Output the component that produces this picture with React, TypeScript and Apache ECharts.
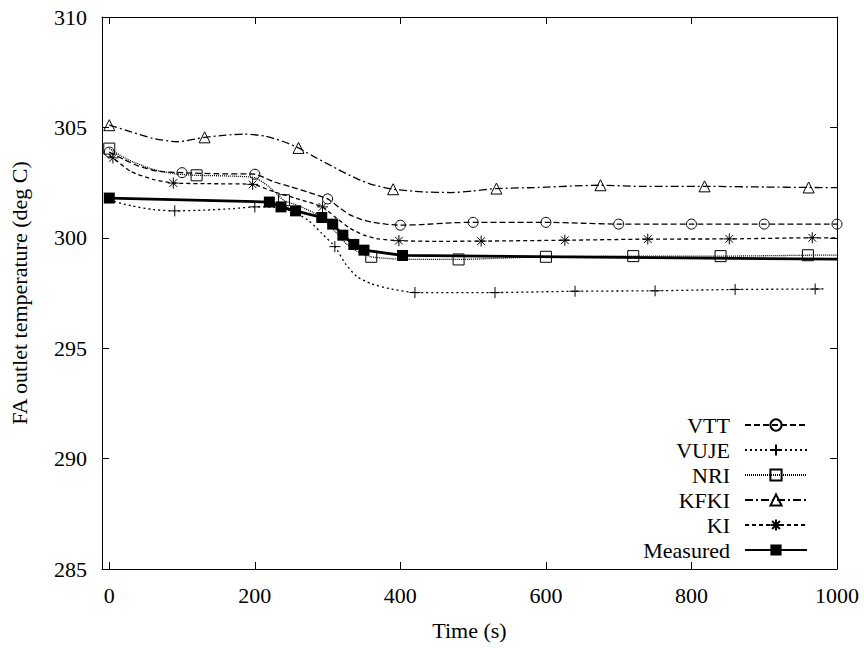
import React, { useEffect, useRef } from "react";
import * as echarts from "echarts";

// ---------- data ----------
const seriesNames = ["VTT", "VUJE", "NRI", "KFKI", "KI", "Measured"];

const xTicks = [0, 200, 400, 600, 800, 1000];
const yMin = 285;
const yMax = 310;
const yStep = 5;
const xMin = -10;
const xMax = 1000;

const vttData = [
  [0, 303.88], [20, 303.55], [40, 303.25], [65, 303.02], [100, 302.95], [150, 302.9],
  [200, 302.88], [225, 302.55], [250, 302.3], [275, 302.05], [300, 301.76], [315, 301.4],
  [330, 301.05], [345, 300.85], [360, 300.72], [380, 300.62], [400, 300.57], [430, 300.6],
  [470, 300.68], [500, 300.7], [600, 300.7], [650, 300.66], [700, 300.62], [800, 300.62],
  [900, 300.62], [1000, 300.62],
];
const vttMarkers = [0, 100, 200, 300, 400, 500, 600, 700, 800, 900, 1000];

const vujeData = [
  [0, 301.7], [30, 301.45], [60, 301.28], [90, 301.22], [130, 301.25], [170, 301.32],
  [200, 301.4], [230, 301.38], [255, 301.15], [275, 300.75], [292, 300.2], [310, 299.6],
  [325, 298.8], [340, 298.25], [360, 297.92], [385, 297.7], [420, 297.52], [530, 297.52],
  [640, 297.58], [750, 297.6], [860, 297.66], [970, 297.68], [985, 297.69],
];
const vujeMarkers = [90, 200, 310, 420, 530, 640, 750, 860, 970];

const nriData = [
  [0, 304.04], [25, 303.55], [60, 303.1], [90, 302.9], [120, 302.83], [160, 302.8],
  [200, 302.72], [220, 302.3], [240, 301.7], [260, 301.45], [280, 301.15], [295, 300.8],
  [310, 300.3], [325, 299.75], [340, 299.4], [360, 299.14], [390, 299.05], [430, 299.02],
  [480, 299.02], [540, 299.08], [600, 299.14], [720, 299.17], [840, 299.17], [960, 299.21],
  [1000, 299.22],
];
const nriMarkers = [0, 120, 240, 360, 480, 600, 720, 840, 960];

const kfkiData = [
  [0, 305.1], [30, 304.8], [60, 304.5], [93, 304.35], [131, 304.55], [160, 304.65],
  [185, 304.7], [215, 304.6], [240, 304.35], [260, 304.07], [280, 303.7], [300, 303.35],
  [320, 303.0], [340, 302.68], [360, 302.42], [390, 302.2], [430, 302.08], [470, 302.05],
  [500, 302.12], [532, 302.23], [590, 302.28], [640, 302.35], [675, 302.38], [730, 302.33],
  [818, 302.33], [900, 302.3], [961, 302.28], [1000, 302.27],
];
const kfkiMarkers = [0, 131, 260, 390, 532, 675, 818, 961];

const kiData = [
  [0, 303.72], [5, 303.62], [30, 303.0], [60, 302.65], [88, 302.48], [140, 302.45],
  [197, 302.42], [225, 302.1], [255, 301.8], [293, 301.4], [310, 300.95], [330, 300.45],
  [350, 300.12], [370, 299.95], [398, 299.87], [450, 299.84], [511, 299.85], [626, 299.89],
  [740, 299.94], [852, 299.95], [966, 300.0], [1000, 300.0],
];
const kiMarkers = [5, 88, 197, 293, 398, 511, 626, 740, 852, 966];

const measuredData = [
  [0, 301.8], [220, 301.62], [236, 301.4], [256, 301.22], [292, 300.92], [307, 300.62],
  [321, 300.12], [336, 299.7], [350, 299.44], [403, 299.2], [1000, 299.03],
];
const measuredMarkers = [0, 220, 236, 256, 292, 307, 321, 336, 350, 403];

// ---------- styling ----------
const FONT = "'Liberation Serif', 'Times New Roman', Times, serif";
const FS = 22;
const PLUS = "path://M0,5L10,5M5,0L5,10";
const STAR = "path://M5,0L5,10M0,5L10,5M1.5,1.5L8.5,8.5M8.5,1.5L1.5,8.5";

function withMarkers(data: number[][], markers: number[]) {
  const set = new Set(markers);
  return data.map(([t, v]) =>
    set.has(t) ? { value: [t, v] } : { value: [t, v], symbol: "none" }
  );
}

function modelSeries(
  name: string,
  data: number[][],
  markers: number[],
  symbol: string,
  symbolSize: number,
  dash: number[]
) {
  return {
    name,
    type: "line",
    data: withMarkers(data, markers),
    symbol,
    symbolSize,
    showAllSymbol: true,
    smooth: 0.2,
    lineStyle: { color: "#000", width: 1.3, type: dash },
    itemStyle: { color: "rgba(255,255,255,0)", borderColor: "#000", borderWidth: 1 },
    emphasis: { disabled: true },
    silent: true,
  };
}

export default function App() {
  const ref = useRef<HTMLDivElement>(null);

  useEffect(() => {
    if (!ref.current) return;
    document.body.style.margin = "0";
    const chart = echarts.init(ref.current, undefined, { renderer: "svg" });

    const axisLine = { show: true, onZero: false, lineStyle: { color: "#000", width: 1 } };
    const tickStyle = { color: "#000", width: 1 };

    chart.setOption({
      animation: false,
      backgroundColor: "#fff",
      grid: { left: 102, right: 27, top: 17, bottom: 79, containLabel: false },
      xAxis: [
        {
          type: "value",
          position: "bottom",
          min: xMin,
          max: xMax,
          axisLine,
          axisTick: { show: true, inside: true, length: 7, customValues: xTicks, lineStyle: tickStyle },
          axisLabel: {
            customValues: xTicks,
            margin: 15,
            fontFamily: FONT,
            fontSize: FS,
            color: "#000",
            formatter: (v: number) => String(v),
          },
          splitLine: { show: false },
          name: "Time (s)",
          nameLocation: "middle",
          nameGap: 50,
          nameTextStyle: { fontFamily: FONT, fontSize: FS, color: "#000" },
        },
        {
          type: "value",
          position: "top",
          min: xMin,
          max: xMax,
          axisLine,
          axisTick: { show: true, inside: true, length: 7, customValues: xTicks, lineStyle: tickStyle },
          axisLabel: { show: false },
          splitLine: { show: false },
        },
      ],
      yAxis: [
        {
          type: "value",
          position: "left",
          min: yMin,
          max: yMax,
          interval: yStep,
          axisLine,
          axisTick: { show: true, inside: true, length: 7, lineStyle: tickStyle },
          axisLabel: { margin: 15, fontFamily: FONT, fontSize: FS, color: "#000" },
          splitLine: { show: false },
          name: "FA outlet temperature (deg C)",
          nameLocation: "middle",
          nameGap: 72,
          nameTextStyle: { fontFamily: FONT, fontSize: FS, color: "#000" },
        },
        {
          type: "value",
          position: "right",
          min: yMin,
          max: yMax,
          interval: yStep,
          axisLine,
          axisTick: { show: true, inside: true, length: 7, lineStyle: tickStyle },
          axisLabel: { show: false },
          splitLine: { show: false },
        },
      ],
      legend: {
        data: seriesNames,
        orient: "vertical",
        align: "right",
        right: 56,
        top: 414,
        padding: 0,
        itemWidth: 62,
        itemHeight: 14,
        itemGap: 3,
        selectedMode: false,
        textStyle: { fontFamily: FONT, fontSize: FS, color: "#000", padding: [0, 10, 0, 0] },
      },
      series: [
        modelSeries("VTT", vttData, vttMarkers, "circle", 10, [6, 3]),
        modelSeries("VUJE", vujeData, vujeMarkers, PLUS, 11, [2, 3]),
        modelSeries("NRI", nriData, nriMarkers, "rect", 11, [1, 1]),
        modelSeries("KFKI", kfkiData, kfkiMarkers, "triangle", 11, [8, 3, 2, 3]),
        modelSeries("KI", kiData, kiMarkers, STAR, 11, [4, 3]),
        {
          name: "Measured",
          type: "line",
          data: withMarkers(measuredData, measuredMarkers),
          symbol: "rect",
          symbolSize: 11,
          showAllSymbol: true,
          lineStyle: { color: "#000", width: 2.8, type: "solid" },
          itemStyle: { color: "#000", borderColor: "#000", borderWidth: 0 },
          emphasis: { disabled: true },
          silent: true,
        },
      ],
    });

    return () => chart.dispose();
  }, []);

  return (
    <div
      ref={ref}
      style={{ position: "fixed", left: 0, top: 0, width: 864, height: 648, background: "#fff" }}
    />
  );
}
